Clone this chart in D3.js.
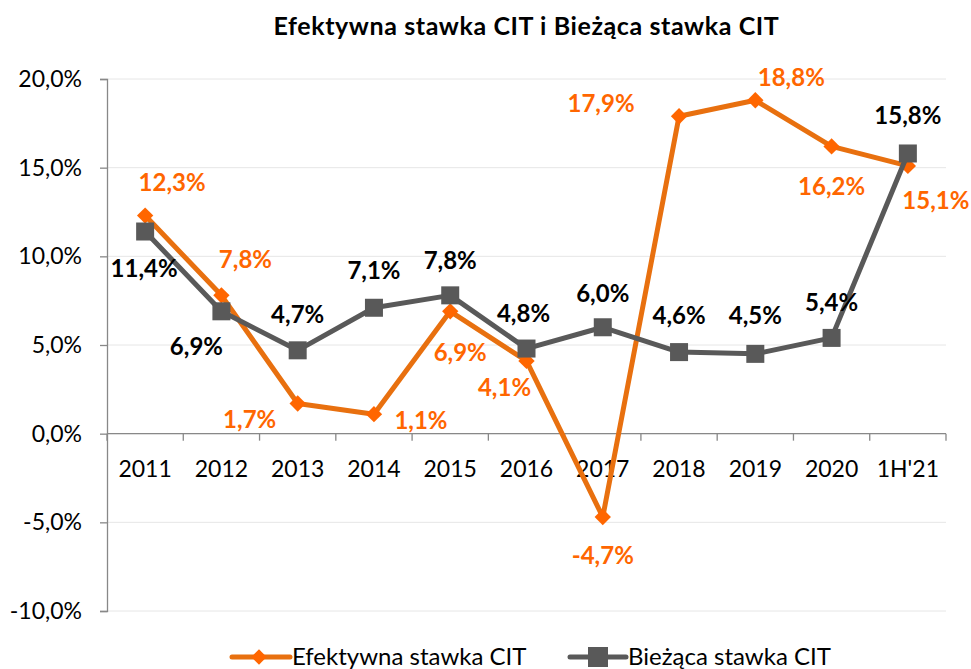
<!DOCTYPE html>
<html>
<head>
<meta charset="utf-8">
<script src="https://cdn.jsdelivr.net/npm/d3@7"></script>
<style>
  body { margin: 0; background: #fff; }
  svg { font-family: Lato, "Open Sans", sans-serif; }
</style>
</head>
<body>
<svg id="chart" width="971" height="669"></svg>
<script>
// data
var categories = ["2011", "2012", "2013", "2014", "2015", "2016", "2017", "2018", "2019", "2020", "1H'21"];
var efektywna = [12.3, 7.8, 1.7, 1.1, 6.9, 4.1, -4.7, 17.9, 18.8, 16.2, 15.1];
var biezaca = [11.4, 6.9, 4.7, 7.1, 7.8, 4.8, 6.0, 4.6, 4.5, 5.4, 15.8];
var yTicks = [-10, -5, 0, 5, 10, 15, 20];
var seriesNames = ["Efektywna stawka CIT", "Bieżąca stawka CIT"];

// label offsets from each point (dx, dy) so they sit like in the original
var efLabelOff = [[27,-33],[24,-36],[-48,16],[47,6],[10,41],[-22,27],[0,39],[-78,-13],[36,-23],[0,40],[28,35]];
var biLabelOff = [[-1,37],[-25,35],[0,-36],[0,-37],[0,-35],[-3,-35],[0,-34],[0,-36],[0,-38],[0,-35],[0,-38]];

var orangeLine = "#E8700F";
var orangeMark = "#FF6600";
var grayLine = "#595959";

var svg = d3.select("#chart");
var mLeft = 107, mRight = 946, mTop = 79, mBottom = 611;

var xScale = d3.scaleBand()
               .domain(categories)
               .range([mLeft, mRight]);
var yScale = d3.scaleLinear()
               .domain([-10, 20])
               .range([mBottom, mTop]);

function fmt(v) {
  return v.toFixed(1).replace(".", ",") + "%";
}

// title
svg.append("text")
   .attr("x", (mLeft + mRight) / 2)
   .attr("y", 35)
   .attr("text-anchor", "middle")
   .attr("font-weight", "bold")
   .attr("font-size", "25px")
   .attr("letter-spacing", "0.6px")
   .attr("fill", "#000")
   .text("Efektywna stawka CIT i Bieżąca stawka CIT");

// gridlines
svg.append("g")
   .selectAll("line")
   .data(yTicks)
   .enter().append("line")
   .attr("x1", mLeft)
   .attr("x2", mRight)
   .attr("y1", d => yScale(d))
   .attr("y2", d => yScale(d))
   .attr("stroke", "#e6e6e6")
   .attr("stroke-width", 1);

// y axis
var yAxis = svg.append("g")
   .attr("transform", "translate(" + mLeft + ",0)")
   .call(d3.axisLeft(yScale).tickValues(yTicks).tickSize(7).tickPadding(18).tickFormat(fmt));
yAxis.select(".domain").attr("stroke", "#888").attr("stroke-width", 1.3);
yAxis.selectAll(".tick line").attr("stroke", "#888").attr("stroke-width", 1.3);
yAxis.selectAll(".tick text")
     .attr("font-size", "23px")
     .attr("font-family", "Lato, sans-serif")
     .attr("fill", "#000");

// x axis at zero, ticks on category boundaries
var xg = svg.append("g");
xg.append("line")
  .attr("x1", mLeft).attr("x2", mRight)
  .attr("y1", yScale(0)).attr("y2", yScale(0))
  .attr("stroke", "#888").attr("stroke-width", 1.3);
var bounds = categories.map(d => xScale(d)).concat([mRight]);
xg.selectAll("line.tk")
  .data(bounds)
  .enter().append("line")
  .attr("class", "tk")
  .attr("x1", d => d).attr("x2", d => d)
  .attr("y1", yScale(0)).attr("y2", yScale(0) + 7)
  .attr("stroke", "#888").attr("stroke-width", 1.3);
xg.selectAll("text")
  .data(categories)
  .enter().append("text")
  .attr("x", d => xScale(d) + xScale.bandwidth() / 2)
  .attr("y", yScale(0) + 35)
  .attr("dy", "0.35em")
  .attr("text-anchor", "middle")
  .attr("font-size", "23px")
  .attr("fill", "#000")
  .text(d => d);

var cx = d => xScale(d) + xScale.bandwidth() / 2;

var line = d3.line()
  .x((d, i) => cx(categories[i]))
  .y(d => yScale(d));

// orange series
svg.append("path")
   .datum(efektywna)
   .attr("d", line)
   .attr("fill", "none")
   .attr("stroke", orangeLine)
   .attr("stroke-width", 5)
   .attr("stroke-linejoin", "round");

var diamond = d3.symbol().type(d3.symbolDiamond2).size(170);
svg.append("g")
   .selectAll("path")
   .data(efektywna)
   .enter().append("path")
   .attr("d", diamond)
   .attr("transform", (d, i) => "translate(" + cx(categories[i]) + "," + yScale(d) + ")")
   .attr("fill", orangeMark);

// gray series
svg.append("path")
   .datum(biezaca)
   .attr("d", line)
   .attr("fill", "none")
   .attr("stroke", grayLine)
   .attr("stroke-width", 5)
   .attr("stroke-linejoin", "round");

svg.append("g")
   .selectAll("rect")
   .data(biezaca)
   .enter().append("rect")
   .attr("x", (d, i) => cx(categories[i]) - 9)
   .attr("y", d => yScale(d) - 9)
   .attr("width", 18)
   .attr("height", 18)
   .attr("fill", grayLine);

// data labels
svg.append("g")
   .selectAll("text")
   .data(efektywna)
   .enter().append("text")
   .attr("x", (d, i) => cx(categories[i]) + efLabelOff[i][0])
   .attr("y", (d, i) => yScale(d) + efLabelOff[i][1])
   .attr("dy", "0.35em")
   .attr("text-anchor", "middle")
   .attr("font-weight", "bold")
   .attr("font-size", "24px")
   .attr("fill", orangeMark)
   .text(fmt);

svg.append("g")
   .selectAll("text")
   .data(biezaca)
   .enter().append("text")
   .attr("x", (d, i) => cx(categories[i]) + biLabelOff[i][0])
   .attr("y", (d, i) => yScale(d) + biLabelOff[i][1])
   .attr("dy", "0.35em")
   .attr("text-anchor", "middle")
   .attr("font-weight", "bold")
   .attr("font-size", "24px")
   .attr("fill", "#000")
   .text(fmt);

// legend
var legY = 657;
var legDiamond = d3.symbol().type(d3.symbolDiamond2).size(150);
var leg1 = svg.append("g").attr("transform", "translate(232," + legY + ")");
leg1.append("line").attr("x1", 0).attr("x2", 58).attr("stroke", orangeLine).attr("stroke-width", 5).attr("stroke-linecap", "round");
leg1.append("path").attr("d", legDiamond).attr("transform", "translate(27,0)").attr("fill", orangeMark);
leg1.append("text").attr("x", 60).attr("dy", "0.35em").attr("font-size", "24px").attr("fill", "#000").text(seriesNames[0]);

var leg2 = svg.append("g").attr("transform", "translate(570," + legY + ")");
leg2.append("line").attr("x1", 0).attr("x2", 56).attr("stroke", grayLine).attr("stroke-width", 5).attr("stroke-linecap", "round");
leg2.append("rect").attr("x", 18).attr("y", -10).attr("width", 20).attr("height", 20).attr("fill", grayLine);
leg2.append("text").attr("x", 58).attr("dy", "0.35em").attr("font-size", "24px").attr("fill", "#000").text(seriesNames[1]);
</script>
</body>
</html>
